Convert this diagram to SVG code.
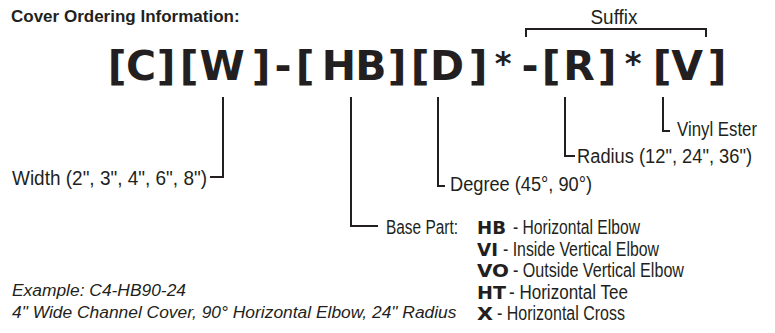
<svg xmlns="http://www.w3.org/2000/svg" width="775" height="333" viewBox="0 0 775 333">
<style>
.t{font-family:"Liberation Sans Narrow","Liberation Sans",Arial,sans-serif;font-size:20px;fill:#231f20}
.h{font-family:"Liberation Sans",Arial,sans-serif;font-weight:bold;font-size:17px;fill:#231f20}
.it{font-family:"Liberation Sans",Arial,sans-serif;font-style:italic;font-size:17.4px;fill:#231f20}
.code{font-family:"DejaVu Sans",sans-serif;font-weight:bold;font-size:41px;fill:#231f20;text-anchor:middle}
.ast{font-family:"DejaVu Sans",sans-serif;font-weight:bold;font-size:32px;fill:#231f20;text-anchor:middle}
.k{font-family:"DejaVu Sans",sans-serif;font-weight:bold;font-size:18px;fill:#231f20}
.ln{fill:none;stroke:#231f20;stroke-width:2}
</style>
<rect width="775" height="333" fill="#fff"/>
<g id="title"><text class="h" x="11" y="22">Cover Ordering Information:</text></g>
<g id="code">
<text class="code" x="117" y="80">[</text>
<text class="code" x="141" y="80">C</text>
<text class="code" x="166" y="80">]</text>
<text class="code" x="189" y="80">[</text>
<text class="code" x="222" y="80">W</text>
<text class="code" x="261" y="80">]</text>
<text class="code" x="283" y="80">-</text>
<text class="code" x="305" y="80">[</text>
<text class="code" x="339" y="80">H</text>
<text class="code" x="371" y="80">B</text>
<text class="code" x="397" y="80">]</text>
<text class="code" x="420" y="80">[</text>
<text class="code" x="447" y="80">D</text>
<text class="code" x="478" y="80">]</text>
<text class="ast" x="503" y="74">*</text>
<text class="code" x="530" y="80">-</text>
<text class="code" x="551" y="80">[</text>
<text class="code" x="579" y="80">R</text>
<text class="code" x="607" y="80">]</text>
<text class="ast" x="633" y="74">*</text>
<text class="code" x="662" y="80">[</text>
<text class="code" x="687" y="80">V</text>
<text class="code" x="717" y="80">]</text>
</g>
<g id="suffix">
<text class="t" x="614" y="24" text-anchor="middle" textLength="47" lengthAdjust="spacingAndGlyphs">Suffix</text>
</g>
<g id="connectors">
<path class="ln" d="M526 37V29H706V37"/>
<path class="ln" d="M223 97V177H210"/>
<path class="ln" d="M351 97V226H378"/>
<path class="ln" d="M438 97V186H445"/>
<path class="ln" d="M565 97V156H575"/>
<path class="ln" d="M663 97V131H670"/>
</g>
<g id="width"><text class="t" x="12" y="185" textLength="195" lengthAdjust="spacingAndGlyphs">Width (2", 3", 4", 6", 8")</text></g>
<g id="degree"><text class="t" x="450" y="191" textLength="142" lengthAdjust="spacingAndGlyphs">Degree (45°, 90°)</text></g>
<g id="radius"><text class="t" x="577" y="163" textLength="175" lengthAdjust="spacingAndGlyphs">Radius (12", 24", 36")</text></g>
<g id="vinyl"><text class="t" x="677" y="136" textLength="80" lengthAdjust="spacingAndGlyphs">Vinyl Ester</text></g>
<g id="base">
<text class="t" x="386" y="234" textLength="72" lengthAdjust="spacingAndGlyphs">Base Part:</text>
<text class="k" x="477" y="234" textLength="29" lengthAdjust="spacingAndGlyphs">HB</text><text class="t" x="513" y="234" textLength="127" lengthAdjust="spacingAndGlyphs">- Horizontal Elbow</text>
<text class="k" x="477" y="256" textLength="21" lengthAdjust="spacingAndGlyphs">VI</text><text class="t" x="503" y="256" textLength="156" lengthAdjust="spacingAndGlyphs">- Inside Vertical Elbow</text>
<text class="k" x="477" y="277" textLength="32" lengthAdjust="spacingAndGlyphs">VO</text><text class="t" x="513" y="277" textLength="171" lengthAdjust="spacingAndGlyphs">- Outside Vertical Elbow</text>
<text class="k" x="477" y="299" textLength="29" lengthAdjust="spacingAndGlyphs">HT</text><text class="t" x="509" y="299" textLength="119" lengthAdjust="spacingAndGlyphs">- Horizontal Tee</text>
<text class="k" x="477" y="320" textLength="16" lengthAdjust="spacingAndGlyphs">X</text><text class="t" x="497" y="320" textLength="128" lengthAdjust="spacingAndGlyphs">- Horizontal Cross</text>
</g>
<g id="example">
<text class="it" x="12" y="296">Example: C4-HB90-24</text>
<text class="it" x="12" y="318">4" Wide Channel Cover, 90° Horizontal Elbow, 24" Radius</text>
</g>
</svg>
